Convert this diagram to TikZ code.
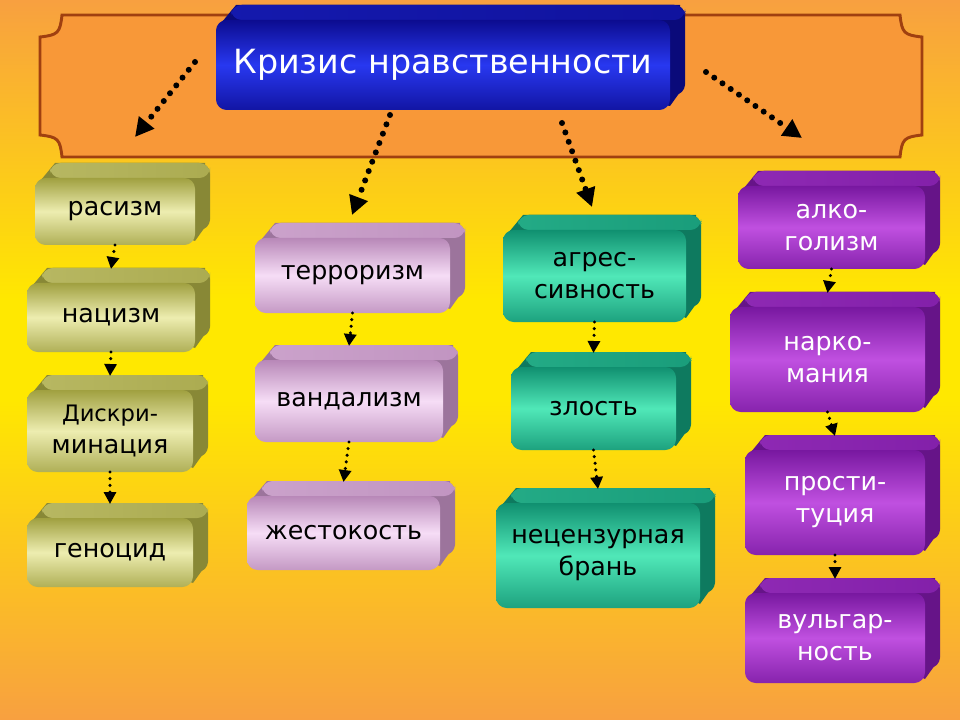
\documentclass[tikz,border=0pt]{standalone}
\usepackage{fontspec}
\setmainfont{DejaVu Sans}
\usetikzlibrary{arrows.meta}
\definecolor{bgor}{HTML}{F8A040}
\definecolor{bgye}{HTML}{FFE800}
\definecolor{olL}{HTML}{EDEDB0}
\definecolor{olD}{HTML}{A0A040}
\definecolor{pkL}{HTML}{F6DDF6}
\definecolor{pkD}{HTML}{B888B8}
\definecolor{tlL}{HTML}{50E8B8}
\definecolor{tlD}{HTML}{109070}
\definecolor{puL}{HTML}{C050E0}
\definecolor{puD}{HTML}{7818A0}
\definecolor{blL}{HTML}{2838F0}
\definecolor{blD}{HTML}{0C0C90}
\definecolor{banner}{HTML}{F89838}
\definecolor{bannerline}{HTML}{A04010}
\tikzset{
  lbl/.style={inner sep=0pt, align=center, font=\fontsize{19}{24}\selectfont},
  dotarrow/.style={line width=4.5pt, dash pattern=on 0pt off 7.5pt, line cap=round, -{Triangle[length=14pt,width=14pt,line cap=butt]}},
  vdot/.style={line width=2.6pt, dash pattern=on 0pt off 5pt, line cap=round, -{Triangle[length=9pt,width=9pt]}}
}
\newcommand\cubebox[9]{%
  \fill[#7!85!black,rounded corners=8] (#2+15,#3-15) rectangle (#4+15,#5-15);
  \fill[#7!85!black] (#2+6,#3+2) -- (#2+20,#3-15) -- (#4+10,#3-15) -- (#4+15,#5-25) -- (#4,#5-4) -- cycle;
  \shade[rounded corners=8, left color=#7!70!#6, right color=#7!85!#6] (#2+15,#3-15) rectangle (#4+15,#3);
  \shade[rounded corners=8, top color=#7, bottom color=#7!80!#6, middle color=#6] (#2,#3) rectangle (#4,#5);
  \node[lbl,text=#9] (#1) at ({(#2+#4)/2},{(#3+#5)/2}) {#8};
  \coordinate (#1-b) at ({(#2+#4)/2},#5);
  \coordinate (#1-t) at ({(#2+#4)/2},#3-14);
}
\begin{document}
\begin{tikzpicture}[x=0.75pt,y=-0.75pt]
\useasboundingbox (0,0) rectangle (960,720);
\shade[top color=bgor, bottom color=bgye] (0,0) rectangle (960,300);
\fill[bgye] (0,299) rectangle (960,400);
\shade[top color=bgye, bottom color=bgor] (0,399) rectangle (960,720);
% banner
\draw[line width=2.2pt, draw=bannerline, fill=banner]
  (62,15) -- (900,15) .. controls (902,33) and (904,35) .. (922,37)
  -- (922,135) .. controls (904,137) and (902,139) .. (900,157)
  -- (62,157) .. controls (60,139) and (58,137) .. (40,135)
  -- (40,37) .. controls (58,35) and (60,33) .. (62,15) -- cycle;
\cubebox{title}{216}{20}{670}{110}{blL}{blD}{\fontsize{25}{30}\selectfont Кризис нравственности}{white}
% left column
\cubebox{ra}{35}{178}{195}{245}{olL}{olD}{расизм}{black}
\cubebox{na}{27}{283}{195}{352}{olL}{olD}{нацизм}{black}
\cubebox{di}{27}{390}{193}{472}{olL}{olD}{\fontsize{17}{24}\selectfont Дискри-\\минация}{black}
\cubebox{ge}{27}{518}{193}{587}{olL}{olD}{геноцид}{black}
% pink
\cubebox{te}{255}{238}{450}{313}{pkL}{pkD}{терроризм}{black}
\cubebox{va}{255}{360}{443}{442}{pkL}{pkD}{вандализм}{black}
\cubebox{zh}{247}{496}{440}{570}{pkL}{pkD}{жестокость}{black}
% teal
\cubebox{ag}{503}{230}{686}{322}{tlL}{tlD}{агрес-\\сивность}{black}
\cubebox{zl}{511}{367}{676}{450}{tlL}{tlD}{злость}{black}
\cubebox{ne}{496}{503}{700}{608}{tlL}{tlD}{нецензурная\\брань}{black}
% purple
\cubebox{al}{738}{186}{925}{269}{puL}{puD}{алко-\\голизм}{white}
\cubebox{nk}{730}{307}{925}{412}{puL}{puD}{нарко-\\мания}{white}
\cubebox{pr}{745}{450}{925}{555}{puL}{puD}{прости-\\туция}{white}
\cubebox{vu}{745}{593}{925}{683}{puL}{puD}{вульгар-\\ность}{white}
% top arrows
\coordinate (s1) at (195,62); \coordinate (e1) at (135,137);
\coordinate (s2) at (390,115); \coordinate (e2) at (352,215);
\coordinate (s3) at (562,123); \coordinate (e3) at (592,207);
\coordinate (s4) at (706,72); \coordinate (e4) at (802,138);
\draw[dotarrow] (s1) -- (e1);
\draw[dotarrow] (s2) -- (e2);
\draw[dotarrow] (s3) -- (e3);
\draw[dotarrow] (s4) -- (e4);
% vertical arrows
\draw[vdot] (ra-b) -- (na-t);
\draw[vdot] (na-b) -- (di-t);
\draw[vdot] (di-b) -- (ge-t);
\draw[vdot] (te-b) -- (va-t);
\draw[vdot] (va-b) -- (zh-t);
\draw[vdot] (ag-b) -- (zl-t);
\draw[vdot] (zl-b) -- (ne-t);
\draw[vdot] (al-b) -- (nk-t);
\draw[vdot] (nk-b) -- (pr-t);
\draw[vdot] (pr-b) -- (vu-t);
\end{tikzpicture}
\end{document}
